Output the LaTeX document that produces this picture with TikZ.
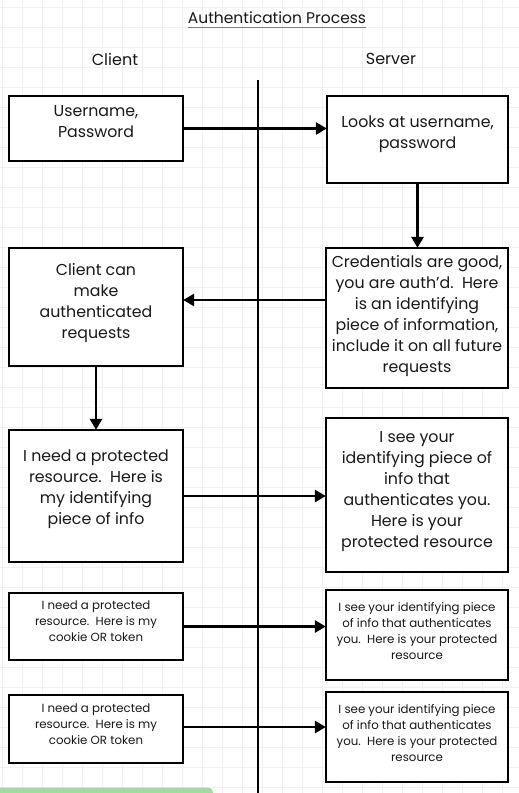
\documentclass[tikz,border=0pt]{standalone}
\usepackage{fontspec}
\setmainfont{Poppins}
\usetikzlibrary{arrows.meta}
\definecolor{gridc}{RGB}{240,240,240}
\definecolor{txtc}{RGB}{25,25,25}
\definecolor{greenbar}{RGB}{160,220,160}
\tikzset{
  box/.style={draw=black, line width=2.3pt, fill=white, inner sep=0pt},
  bigtxt/.style={text=txtc, align=center, inner sep=0pt, font=\fontsize{15.8}{21}\selectfont},
  smalltxt/.style={text=txtc, align=center, inner sep=0pt, font=\fontsize{11.8}{16}\selectfont},
  arr/.style={draw=black, line width=2.8pt, -{Triangle[length=11pt,width=12pt]}, shorten >=-1pt},
  hdr/.style={text=txtc, inner sep=0pt, font=\fontsize{16}{18}\selectfont},
}
\begin{document}
\begin{tikzpicture}[x=1pt,y=-1pt]
\useasboundingbox (0,0) rectangle (519,793);
\fill[white] (0,0) rectangle (519,793);
\begin{scope}[shift={(2,7)}]
\draw[gridc, line width=0.8pt, step=20pt] (-2,-7) grid (517,786);
\end{scope}
% headers
\node[hdr, font=\fontsize{15.5}{17}\selectfont] (title) at (277,18) {Authentication Process};
\draw[gray, line width=1pt] (title.south west) ++(0,3) coordinate (ul1) -- (ul1 -| title.south east);
\node[hdr] (client) at (115,59) {Client};
\node[hdr] (server) at (391,59) {Server};
% divider
\coordinate (vtop) at (258,80);
\coordinate (vbot) at (258,793);
\draw[black, line width=2pt] (vtop) -- (vbot);
% boxes
\node[box, minimum width=174pt, minimum height=65pt] (b1) at (96,128.5) {};
\node[bigtxt] (t1) at (96,121.5) {Username,\\Password};
\node[box, minimum width=181pt, minimum height=87pt] (b2) at (417.5,139.5) {};
\node[bigtxt] (t2) at (417.5,134.5) {Looks at username,\\password};
\node[box, minimum width=182pt, minimum height=140pt] (b3) at (417,318) {};
\node[bigtxt] (t3) at (417,316.5) {Credentials are good,\\you are auth'd.\ \ Here\\is an identifying\\piece of information,\\include it on all future\\requests};
\node[box, minimum width=174pt, minimum height=118pt] (b4) at (96,307) {};
\node[bigtxt] (t4) at (96,303.5) {Client can\\make\\authenticated\\requests};
\node[box, minimum width=174pt, minimum height=132pt] (b5) at (96,496) {};
\node[bigtxt] (t5) at (96,489.5) {I need a protected\\resource.\ \ Here is\\my identifying\\piece of info};
\node[box, minimum width=182pt, minimum height=154pt] (b6) at (417,495) {};
\node[bigtxt] (t6) at (417,492) {I see your\\identifying piece of\\info that\\authenticates you.\\Here is your\\protected resource};
\node[box, minimum width=174pt, minimum height=67pt] (b7) at (96,626.5) {};
\node[smalltxt] (t7) at (96,621) {I need a protected\\resource.\ \ Here is my\\cookie OR token};
\node[box, minimum width=182pt, minimum height=90pt] (b8) at (417,635) {};
\node[smalltxt] (t8) at (417,631) {I see your identifying piece\\of info that authenticates\\you.\ \ Here is your protected\\resource};
\node[box, minimum width=174pt, minimum height=68pt] (b9) at (96,729) {};
\node[smalltxt] (t9) at (96,724) {I need a protected\\resource.\ \ Here is my\\cookie OR token};
\node[box, minimum width=182pt, minimum height=90pt] (b10) at (417,737) {};
\node[smalltxt] (t10) at (417,733) {I see your identifying piece\\of info that authenticates\\you.\ \ Here is your protected\\resource};
% connectors
\draw[arr] (b1.east) -- (b1.east -| b2.west);
\draw[arr] (b2.south) -- (b2.south |- b3.north);
\draw[arr] ([yshift=18pt]b3.west) -- ([yshift=18pt]b3.west -| b4.east);
\draw[arr] (b4.south) -- (b4.south |- b5.north);
\draw[arr] (b5.east) -- (b5.east -| b6.west);
\draw[arr] (b7.east) -- (b7.east -| b8.west);
\draw[arr] ([yshift=2pt]b9.east) -- ([yshift=2pt]b9.east -| b10.west);
% green bar
\fill[greenbar, rounded corners=5pt] (-10,787.5) rectangle (213,800);
\end{tikzpicture}
\end{document}
